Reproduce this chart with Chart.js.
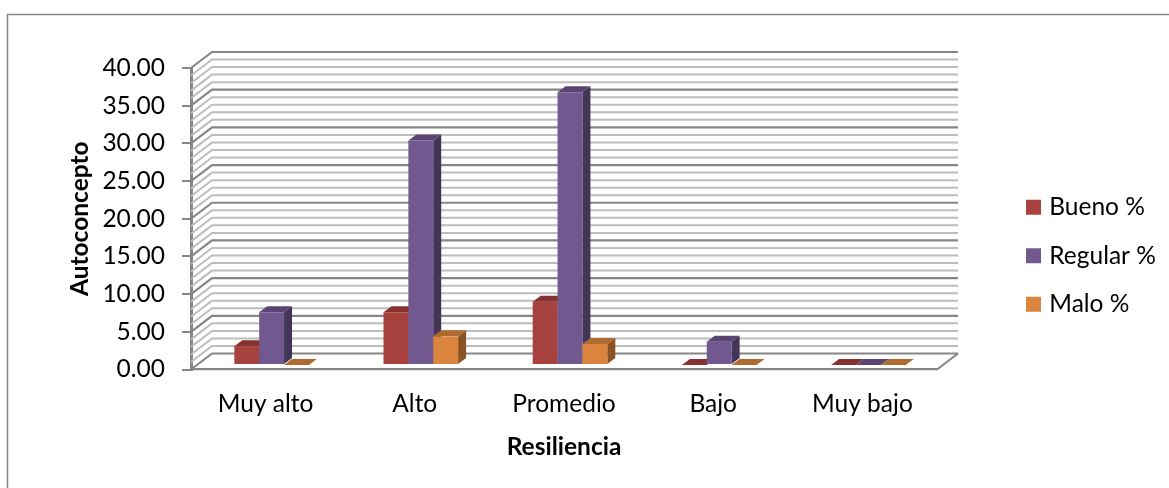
<!DOCTYPE html>
<html>
<head>
<meta charset="utf-8">
<style>
  html, body { margin: 0; padding: 0; background: #ffffff; }
  canvas { display: block; }
</style>
<script src="https://cdn.jsdelivr.net/npm/chart.js@4"></script>
</head>
<body>
<canvas id="chart" width="1169" height="488"></canvas>
<script>
// Values per resilience level, in percent
const categories = ['Muy alto', 'Alto', 'Promedio', 'Bajo', 'Muy bajo'];
const bueno = [2.5, 7.0, 8.4, 0, 0];
const regular = [7.0, 29.8, 36.2, 3.1, 0];
const malo = [0, 3.8, 2.8, 0, 0];

const seriesNames = ['Bueno %', 'Regular %', 'Malo %'];
const frontColors = ['#a8423f', '#71588f', '#db843d'];
const topColors = ['#86332f', '#5a4572', '#ae6a2f'];
const sideColors = ['#6e2a28', '#433556', '#8a5324'];

const yTitle = 'Autoconcepto';
const xTitle = 'Resiliencia';

// Depth of the box behind the axes, of each column, and of the columns' inset
const wall = { dx: 21, dy: -16 };
const barDepth = { dx: 8, dy: -6 };
const barInset = { dx: 6, dy: -4.5 };

const FONT = 'Lato, Carlito, sans-serif';
const FONT_SIZE = 24.5;
const AXIS_GRAY = '#868686';
const MINOR_GRAY = '#bdbdbd';

function face(ctx, color, pts) {
  ctx.fillStyle = color;
  ctx.beginPath();
  pts.forEach((p, i) => (i ? ctx.lineTo(p[0], p[1]) : ctx.moveTo(p[0], p[1])));
  ctx.closePath();
  ctx.fill();
}

// Outer frame, walls and floor of the 3D box, then the column faces
const boxPlugin = {
  id: 'box',
  beforeDatasetsDraw(chart) {
    const { ctx, chartArea: a, scales: { y } } = chart;
    ctx.save();
    ctx.strokeStyle = AXIS_GRAY;
    ctx.lineWidth = 1.5;
    ctx.beginPath();
    ctx.moveTo(7.5, 488);
    ctx.lineTo(7.5, 14.5);
    ctx.lineTo(1169, 14.5);
    ctx.stroke();

    for (let v = y.max; v >= y.min; v -= 1) {
      const py = y.getPixelForValue(v);
      const major = v % 5 === 0;
      ctx.strokeStyle = major ? AXIS_GRAY : MINOR_GRAY;
      ctx.lineWidth = major ? 2.2 : 2;
      ctx.beginPath();
      ctx.moveTo(a.left, py);
      ctx.lineTo(a.left + wall.dx, py + wall.dy);
      ctx.lineTo(a.right + wall.dx, py + wall.dy);
      ctx.stroke();
    }
    ctx.strokeStyle = AXIS_GRAY;
    ctx.lineWidth = 2.2;
    ctx.beginPath();
    ctx.moveTo(a.right, a.bottom);
    ctx.lineTo(a.right + wall.dx, a.bottom + wall.dy);
    ctx.stroke();
    ctx.restore();
  },
  afterDatasetsDraw(chart) {
    // Columns stand slightly inside the floor; each series is painted left to
    // right so that a column's front hides the side of its left neighbour
    const { ctx } = chart;
    const dx = barDepth.dx, dy = barDepth.dy;
    ctx.save();
    ctx.translate(barInset.dx, barInset.dy);
    chart.data.datasets.forEach((ds, i) => {
      chart.getDatasetMeta(i).data.forEach((bar) => {
        const l = bar.x - bar.width / 2, r = bar.x + bar.width / 2;
        const t = bar.y, b = bar.base;
        if (b - t > 0.5) {
          face(ctx, sideColors[i], [[r, t], [r + dx, t + dy], [r + dx, b + dy], [r, b]]);
        }
        face(ctx, topColors[i], [[l, t], [l + dx, t + dy], [r + dx, t + dy], [r, t]]);
        bar.draw(ctx);
      });
    });
    ctx.restore();
  },
  beforeDatasetDraw() {
    // All column painting happens in afterDatasetsDraw
    return false;
  },
  afterLayout(chart) {
    // Legend column sits in the free space right of the box
    const lg = chart.legend;
    lg.left = 1006;
    lg.right = 1169;
    lg.top = 171;
    lg.bottom = 488;
  }
};

new Chart(document.getElementById('chart'), {
  type: 'bar',
  data: {
    labels: categories,
    datasets: [bueno, regular, malo].map((values, i) => ({
      label: seriesNames[i],
      data: values,
      backgroundColor: frontColors[i],
      borderWidth: 0,
      categoryPercentage: 0.5,
      barPercentage: 1
    }))
  },
  options: {
    responsive: false,
    animation: false,
    layout: { padding: { left: 65, top: 68, right: 232, bottom: 26 } },
    plugins: {
      tooltip: { enabled: false },
      legend: {
        position: 'chartArea',
        align: 'start',
        labels: {
          boxWidth: 7,
          boxHeight: 7,
          padding: 24,
          color: '#000000',
          font: { family: FONT, size: FONT_SIZE },
          // Thick same-colour outline gives a 15px square close to its label
          generateLabels(chart) {
            return Chart.defaults.plugins.legend.labels.generateLabels(chart).map((item) => ({
              ...item,
              strokeStyle: item.fillStyle,
              lineWidth: 8,
              lineJoin: 'miter',
              lineDash: []
            }));
          }
        }
      }
    },
    scales: {
      x: {
        afterFit(s) { s.height = 92.5; },
        grid: { display: false },
        border: { display: true, color: AXIS_GRAY, width: 2.2 },
        ticks: { padding: 12, color: '#000000', font: { family: FONT, size: FONT_SIZE }, maxRotation: 0 },
        title: {
          display: true,
          text: xTitle,
          color: '#000000',
          padding: 0,
          font: { family: FONT, size: FONT_SIZE, weight: 'bold' }
        }
      },
      y: {
        min: 0,
        max: 40,
        afterFit(s) { s.width = 126; },
        grid: { drawOnChartArea: false, drawTicks: true, tickLength: 9, color: AXIS_GRAY, lineWidth: 2 },
        border: { display: true, color: AXIS_GRAY, width: 3 },
        ticks: {
          stepSize: 5,
          padding: 17,
          color: '#000000',
          font: { family: FONT, size: FONT_SIZE },
          callback: (v) => v.toFixed(2)
        },
        title: {
          display: true,
          text: yTitle,
          color: '#000000',
          padding: 0,
          font: { family: FONT, size: FONT_SIZE, weight: 'bold' }
        }
      }
    }
  },
  plugins: [boxPlugin]
});
</script>
</body>
</html>
